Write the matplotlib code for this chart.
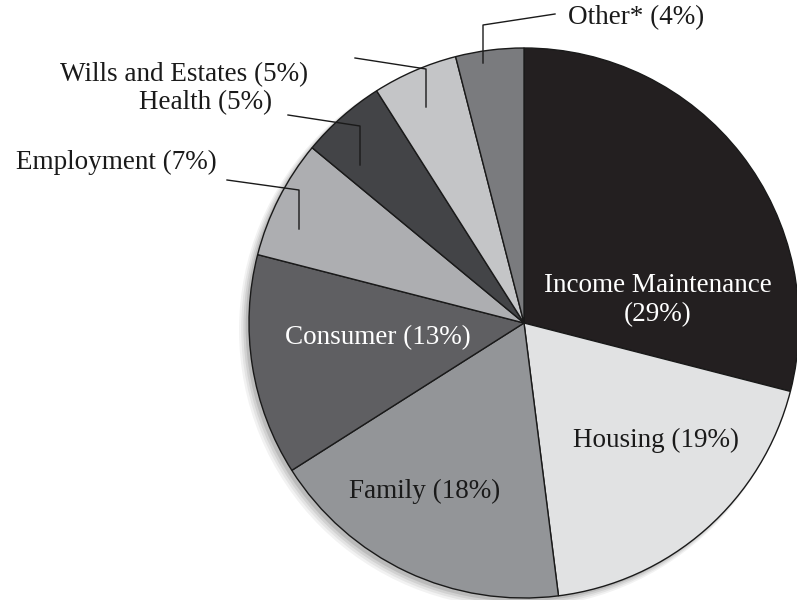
import matplotlib
matplotlib.use("Agg")
import matplotlib.pyplot as plt
from matplotlib.patches import Circle

# slice data, clockwise from 12 o'clock
categories = ["Income Maintenance", "Housing", "Family", "Consumer",
              "Employment", "Health", "Wills and Estates", "Other*"]
shares = [29, 19, 18, 13, 7, 5, 5, 4]
colors = ["#231f20", "#e1e2e3", "#939598", "#5f5f62",
          "#adaeb1", "#434447", "#c4c5c7", "#7a7b7e"]

FONT = "Liberation Serif"
FS = 19.5

fig = plt.figure(figsize=(7.97, 6.0), dpi=100)
ax = fig.add_axes([0, 0, 1, 1])

cx, cy, r = 524, 277, 275

# soft drop shadow to the lower left
for i, a in enumerate([0.05, 0.06, 0.08, 0.10]):
    off = 7 - i * 1.2
    ax.add_patch(Circle((cx - off, cy - off), r + 3 - i, color="black",
                        alpha=a, lw=0, zorder=0))

wedges, _ = ax.pie(shares, colors=colors, startangle=90, counterclock=False,
                   center=(cx, cy), radius=r, frame=True,
                   wedgeprops=dict(edgecolor="#1a1a1a", linewidth=1.0))
ax.set_xlim(0, 797)
ax.set_ylim(0, 600)
ax.set_aspect("equal")
ax.axis("off")

def lbl(i):
    return f"{categories[i]} ({shares[i]}%)"

# inside labels
ax.text(658, 600 - 300, f"{categories[0]}\n({shares[0]}%)", ha="center", va="center",
        color="white", fontsize=FS, family=FONT, linespacing=1.2)
ax.text(378, 600 - 338, lbl(3), ha="center", va="center", color="white",
        fontsize=FS, family=FONT)
ax.text(656, 600 - 440, lbl(1), ha="center", va="center", color="#1a1a1a",
        fontsize=FS, family=FONT)
ax.text(425, 600 - 491, lbl(2), ha="center", va="center", color="#1a1a1a",
        fontsize=FS, family=FONT)

# outside labels with leader lines (text anchor, line start, bend, end)
outside = [
    (7, (568, 18), "left", [(555, 14), (483, 25), (483, 63)]),
    (6, (308, 75), "right", [(355, 58), (426, 69), (426, 107)]),
    (5, (272, 103), "right", [(288, 115), (360, 126), (360, 165)]),
    (4, (217, 162), "right", [(227, 180), (299, 190), (299, 229)]),
]
for i, (tx, ty), ha, pts in outside:
    ax.text(tx, 600 - ty, lbl(i), ha=ha, va="center", color="#1a1a1a",
            fontsize=FS, family=FONT)
    ax.plot([p[0] for p in pts], [600 - p[1] for p in pts], color="#1a1a1a",
            lw=1.0, zorder=5)

fig.savefig("out.png", dpi=100)
